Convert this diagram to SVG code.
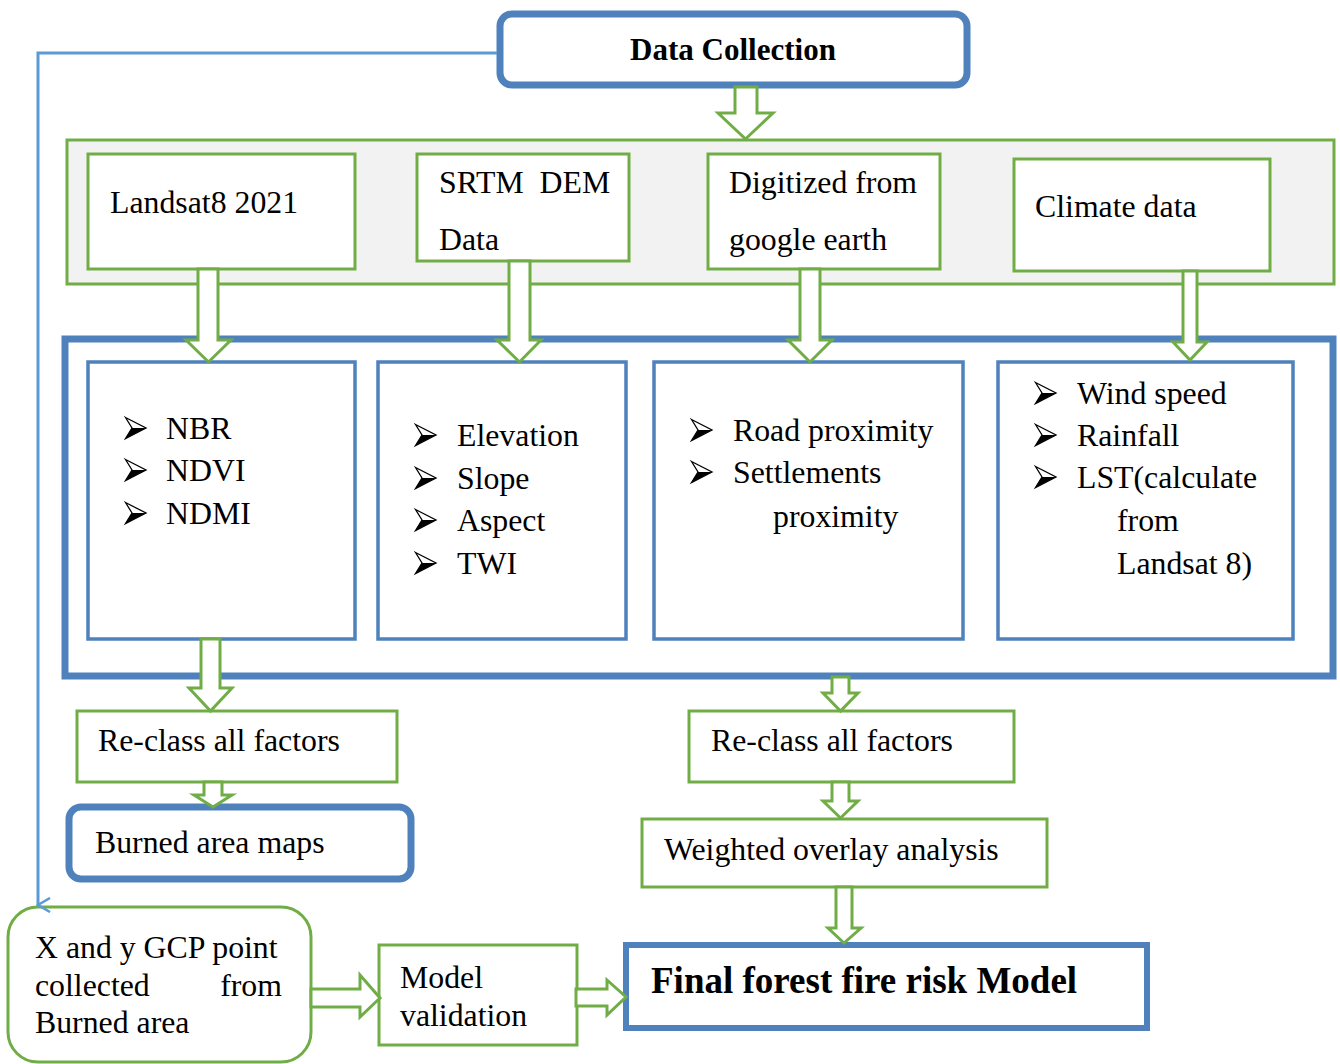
<svg xmlns="http://www.w3.org/2000/svg" width="1340" height="1064" viewBox="0 0 1340 1064">
<style>
text{font-family:"Liberation Serif","Times New Roman",serif;font-size:31.8px;fill:#000}
.b{font-weight:bold}
.g{fill:#fff;stroke:#70AD47;stroke-width:3}
.bl{fill:#fff;stroke:#4F81BD;stroke-width:3.5}
.bt{fill:#fff;stroke:#4F81BD;stroke-width:7}
.arr{fill:#fff;stroke:#70AD47;stroke-width:3;stroke-linejoin:miter}
</style>
<defs>
<marker id="open" markerWidth="16" markerHeight="16" refX="8" refY="14" orient="auto" markerUnits="userSpaceOnUse" viewBox="0 0 16 16">
<path d="M1,2 L8,14 L15,2" fill="none" stroke="#5B9BD5" stroke-width="2.5"/>
</marker>
<g id="bul">
<path d="M0.5,0.5 L21,11 L0.5,21.5 L7,11 Z" fill="#fff" stroke="#000" stroke-width="1.3" stroke-linejoin="miter"/>
<path d="M7,11 L21,11 L0.5,21.5 Z" fill="#000"/>
</g>
</defs>
<rect width="1340" height="1064" fill="#fff"/>
<g id="datacollection"><rect x="500" y="14" width="467" height="71" rx="12" class="bt"/><text x="733" y="60" text-anchor="middle" class="b" style="font-size:31px">Data Collection</text></g>
<g id="sources"><rect x="67" y="140" width="1267" height="144" fill="#F2F2F2" stroke="#70AD47" stroke-width="3"/></g>
<g id="landsat"><rect x="88" y="154" width="267" height="115" class="g"/><text x="110" y="213">Landsat8 2021</text></g>
<g id="srtm"><rect x="417" y="154" width="212" height="107" class="g"/><text x="439" y="193" xml:space="preserve">SRTM  DEM</text><text x="439" y="250">Data</text></g>
<g id="digitized"><rect x="708" y="154" width="232" height="115" class="g"/><text x="729" y="193">Digitized from</text><text x="729" y="250">google earth</text></g>
<g id="climate"><rect x="1014" y="159" width="256" height="112" class="g"/><text x="1035" y="217">Climate data</text></g>
<g id="factors"><rect x="65" y="339" width="1268" height="337" fill="#fff" stroke="#4F81BD" stroke-width="7"/></g>
<g id="box1"><rect x="88" y="362" width="267" height="277" class="bl"/>
<use href="#bul" x="125" y="417"/><text x="166" y="439">NBR</text>
<use href="#bul" x="125" y="459"/><text x="166" y="481">NDVI</text>
<use href="#bul" x="125" y="502"/><text x="166" y="524">NDMI</text></g>
<g id="box2"><rect x="378" y="362" width="248" height="277" class="bl"/>
<use href="#bul" x="415" y="424"/><text x="457" y="446">Elevation</text>
<use href="#bul" x="415" y="467"/><text x="457" y="489">Slope</text>
<use href="#bul" x="415" y="509"/><text x="457" y="531">Aspect</text>
<use href="#bul" x="415" y="552"/><text x="457" y="574">TWI</text></g>
<g id="box3"><rect x="654" y="362" width="309" height="277" class="bl"/>
<use href="#bul" x="691" y="419"/><text x="733" y="441">Road proximity</text>
<use href="#bul" x="691" y="461"/><text x="733" y="483">Settlements</text>
<text x="773" y="527">proximity</text></g>
<g id="box4"><rect x="998" y="362" width="295" height="277" class="bl"/>
<use href="#bul" x="1035" y="382"/><text x="1077" y="404">Wind speed</text>
<use href="#bul" x="1035" y="424"/><text x="1077" y="446">Rainfall</text>
<use href="#bul" x="1035" y="466"/><text x="1077" y="488">LST(calculate</text>
<text x="1117" y="531">from</text>
<text x="1117" y="574">Landsat 8)</text></g>
<g id="reclassL"><rect x="77" y="711" width="320" height="71" class="g"/><text x="98" y="751">Re-class all factors</text></g>
<g id="burned"><rect x="69" y="807" width="342" height="72" rx="12" class="bt"/><text x="95" y="853">Burned area maps</text></g>
<g id="reclassR"><rect x="689" y="711" width="325" height="71" class="g"/><text x="711" y="751">Re-class all factors</text></g>
<g id="weighted"><rect x="642" y="819" width="405" height="68" class="g"/><text x="664" y="860">Weighted overlay analysis</text></g>
<g id="gcp"><rect x="8" y="907" width="303" height="155" rx="30" class="g"/>
<text x="35" y="958">X and y GCP point</text>
<text x="35" y="996">collected</text><text x="282" y="996" text-anchor="end">from</text>
<text x="35" y="1033">Burned area</text></g>
<g id="validation"><rect x="379" y="945" width="198" height="100" class="g"/><text x="400" y="988">Model</text><text x="400" y="1026">validation</text></g>
<g id="final"><rect x="626" y="945" width="521" height="83" fill="#fff" stroke="#4F81BD" stroke-width="6"/><text x="651" y="993" class="b" style="font-size:37px">Final forest fire risk Model</text></g>
<g id="connectors">
<polyline points="497,53 38,53 38,905" fill="none" stroke="#5B9BD5" stroke-width="3" marker-end="url(#open)"/>
<polygon class="arr" points="735,87 757,87 757,113 773,113 745.5,139 718,113 735,113"/>
<polygon class="arr" points="198,269 218,269 218,340 231,340 208.5,362 186,340 198,340"/>
<polygon class="arr" points="509,261 530,261 530,340 541,340 519.5,362 497,340 509,340"/>
<polygon class="arr" points="800,269 820,269 820,340 832,340 810,362 788,340 800,340"/>
<polygon class="arr" points="1183,271 1197,271 1197,342 1207,342 1190,360 1173,342 1183,342"/>
<polygon class="arr" points="201,639 220,639 220,688 232,688 210.5,711 189,688 201,688"/>
<polygon class="arr" points="832,677 849,677 849,693 858,693 840.5,711 823,693 832,693"/>
<polygon class="arr" points="204,782 222,782 222,795 232,795 213,807 194,795 204,795"/>
<polygon class="arr" points="832,782 849,782 849,801 858,801 840.5,818 823,801 832,801"/>
<polygon class="arr" points="836,887 852,887 852,928 861,928 844,943 828,928 836,928"/>
<polygon class="arr" points="311,989 360,989 360,975 380,998 360,1017 360,1007 311,1007"/>
<polygon class="arr" points="576,989 607,989 607,980 626,997 607,1015 607,1006 576,1006"/>
</g>
</svg>
